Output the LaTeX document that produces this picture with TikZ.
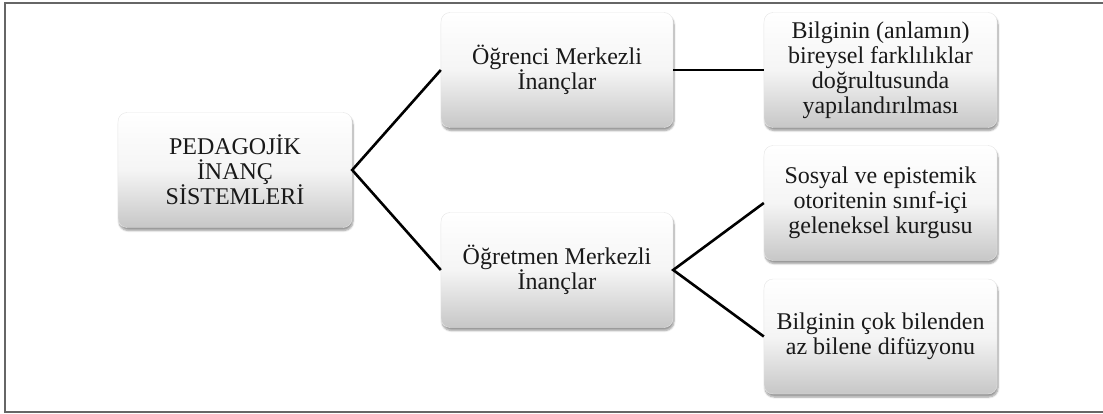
\documentclass[tikz,border=0pt]{standalone}
\usepackage{fontspec}
\setmainfont{Liberation Serif}
\usetikzlibrary{shadows.blur}
\begin{document}
\begin{tikzpicture}[x=1pt,y=-1pt,
  box/.style={rounded corners=9pt, minimum height=115pt, align=center,
    top color=white, bottom color=black!22, middle color=white!96!black,
    draw=black!10, line width=0.4pt,
    blur shadow={shadow xshift=1pt, shadow yshift=-3pt, shadow blur steps=6, shadow opacity=40},
    font=\fontsize{24}{25}\selectfont, text=black!90, inner sep=2pt},
  conn/.style={line width=2.6pt, black}]
\useasboundingbox (0,0) rectangle (1103,414);
\draw[black!60, line width=1.6pt] (1103,3) -- (5,3) -- (5,412) -- (1103,412);
\node[box, minimum width=234pt] (root) at (235,170) {PEDAGOJİK\\İNANÇ\\SİSTEMLERİ};
\node[box, minimum width=232pt] (ogr) at (557,70) {Öğrenci Merkezli\\İnançlar};
\node[box, minimum width=232pt] (ogt) at (557,270) {Öğretmen Merkezli\\İnançlar};
\node[box, minimum width=233pt] (b1) at (880.5,70) {Bilginin (anlamın)\\bireysel farklılıklar\\doğrultusunda\\yapılandırılması};
\node[box, minimum width=233pt] (b2) at (880.5,203) {Sosyal ve epistemik\\otoritenin sınıf-içi\\geleneksel kurgusu};
\node[box, minimum width=233pt] (b3) at (880.5,336.5) {Bilginin çok bilenden\\az bilene difüzyonu};
\draw[conn] (ogr.west) -- (root.east) -- (ogt.west);
\draw[conn] (ogr.east) -- (b1.west);
\draw[conn] (b2.west) -- (ogt.east) -- (b3.west);
\end{tikzpicture}
\end{document}
